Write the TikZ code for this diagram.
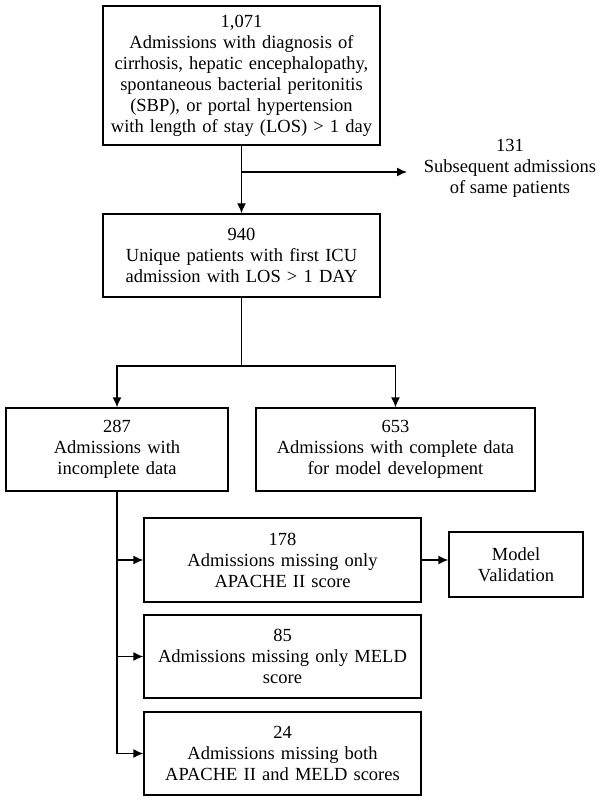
\documentclass[tikz,border=0pt]{standalone}
\usepackage{fontspec}
\setmainfont{Liberation Serif}
\usetikzlibrary{arrows.meta}
\begin{document}
\begin{tikzpicture}[x=1pt,y=-1pt,
  every node/.style={font=\fontsize{18.5}{21}\selectfont, inner sep=0pt, align=center},
  box/.style={draw, line width=1.4pt, minimum width=#1, text width=#1},
  arr/.style={-{Latex[length=10pt,width=9pt]}},
  line/.style={line width=1.4pt}]
\useasboundingbox (0,0) rectangle (602,802);
\node[box=277pt, minimum height=139pt] (top) at (241.5,75.5) {1,071\\Admissions with diagnosis of\\cirrhosis, hepatic encephalopathy,\\spontaneous bacterial peritonitis\\(SBP), or portal hypertension\\with length of stay (LOS) > 1 day};
\node (t131) at (510,168) {131\\Subsequent admissions\\of same patients};
\node[box=277pt, minimum height=83pt] (n940) at (241.5,255.5) {940\\Unique patients with first ICU\\admission with LOS > 1 DAY};
\node[box=222pt, minimum height=83pt] (n287) at (117,449.5) {287\\Admissions with\\incomplete data};
\node[box=279pt, minimum height=83pt] (n653) at (395.5,449.5) {653\\Admissions with complete data\\for model development};
\node[box=277pt, minimum height=84pt] (n178) at (282.5,560) {178\\Admissions missing only\\APACHE II score};
\node[box=277pt, minimum height=83pt] (n85) at (282.5,656.5) {85\\Admissions missing only MELD\\score};
\node[box=277pt, minimum height=83pt] (n24) at (282.5,753.5) {24\\Admissions missing both\\APACHE II and MELD scores};
\node[box=134pt, minimum height=65pt] (mv) at (516,564.5) {Model\\Validation};
\coordinate (br) at (241.5,172);
\coordinate (tip131) at (407,172);
\coordinate (split) at (241.5,366);
\draw[line, arr] (top.south) -- (n940.north);
\draw[line, arr] (br) -- (tip131);
\draw[line] (n940.south) -- (split);
\draw[line, arr] (split) -| (n287.north);
\draw[line, arr] (split) -| (n653.north);
\draw[line] (n287.south) -- (n287.south |- n24.west);
\draw[line, arr] (n287.south |- n178.west) -- (n178.west);
\draw[line, arr] (n287.south |- n85.west) -- (n85.west);
\draw[line, arr] (n287.south |- n24.west) -- (n24.west);
\draw[line, arr] (n178.east) -- (n178.east -| mv.west);
\end{tikzpicture}
\end{document}
